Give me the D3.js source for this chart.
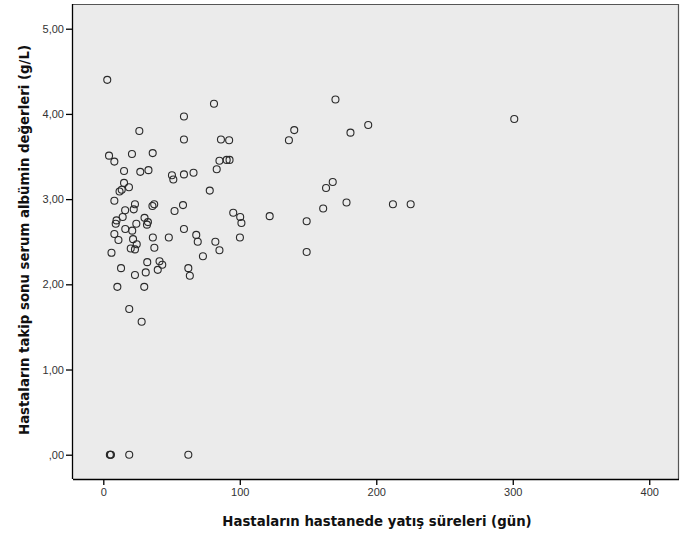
<!DOCTYPE html>
<html>
<head>
<meta charset="utf-8">
<script src="https://cdn.jsdelivr.net/npm/d3@7"></script>
<style>
  html, body { margin: 0; padding: 0; background: #ffffff; }
  svg { display: block; }
</style>
</head>
<body>
<svg id="chart" width="681" height="533"></svg>
<script>
// Hospital stay duration (days)
const stayDays = [
  2.9, 4.2, 8.1, 21.0, 36.2, 26.4, 59.1, 59.1, 81.1, 86.2,
  92.2, 15.2, 27.1, 33.1, 50.3, 51.3, 59.1, 66.1, 85.1, 83.1,
  90.4, 92.5, 78.0, 15.2, 18.8, 13.5, 11.9, 8.1, 23.2, 22.3,
  16.0, 37.3, 36.0, 58.4, 52.2, 95.2, 100.3, 101.2, 14.2, 9.7,
  9.1, 30.2, 32.7, 32.0, 24.2, 16.1, 21.2, 8.1, 11.1, 21.8,
  24.5, 20.1, 23.2, 36.3, 48.0, 37.4, 6.0, 59.1, 68.1, 69.2,
  82.1, 85.1, 100.1, 73.0, 13.0, 23.2, 32.2, 31.1, 41.2, 43.2,
  39.9, 62.3, 63.4, 10.3, 30.0, 19.0, 28.1, 170.1, 139.9, 136.0,
  181.1, 194.1, 301.1, 168.1, 163.2, 161.1, 178.2, 212.2, 225.2, 121.9,
  149.0, 149.0, 4.8, 5.2, 5.6, 19.0, 62.3
];
// Follow-up serum albumin (g/L)
const albumin = [
  4.40, 3.51, 3.44, 3.53, 3.54, 3.80, 3.97, 3.70, 4.12, 3.70,
  3.69, 3.33, 3.32, 3.34, 3.28, 3.23, 3.29, 3.31, 3.45, 3.35,
  3.46, 3.46, 3.10, 3.19, 3.14, 3.11, 3.09, 2.98, 2.94, 2.88,
  2.87, 2.94, 2.92, 2.93, 2.86, 2.84, 2.79, 2.72, 2.79, 2.75,
  2.71, 2.78, 2.73, 2.70, 2.71, 2.65, 2.63, 2.59, 2.52, 2.53,
  2.47, 2.42, 2.41, 2.55, 2.55, 2.43, 2.37, 2.65, 2.58, 2.50,
  2.50, 2.40, 2.55, 2.33, 2.19, 2.11, 2.26, 2.14, 2.27, 2.23,
  2.17, 2.19, 2.10, 1.97, 1.97, 1.71, 1.56, 4.17, 3.81, 3.69,
  3.78, 3.87, 3.94, 3.20, 3.13, 2.89, 2.96, 2.94, 2.94, 2.80,
  2.74, 2.38, 0.00, 0.00, 0.00, 0.00, 0.00
];

const xTickValues = [0, 100, 200, 300, 400];
const xTickLabels = ["0", "100", "200", "300", "400"];
const yTickValues = [0, 1, 2, 3, 4, 5];
const yTickLabels = [",00", "1,00", "2,00", "3,00", "4,00", "5,00"];

const xTitle = "Hastaların hastanede yatış süreleri (gün)";
const yTitle = "Hastaların takip sonu serum albümin değerleri (g/L)";

const svg = d3.select("#chart");
const plot = { left: 73, right: 679, top: 4, bottom: 479 };

const x = d3.scaleLinear().domain([-22.2, 421.8]).range([plot.left, plot.right]);
const y = d3.scaleLinear().domain([-0.285, 5.29]).range([plot.bottom, plot.top]);

// plot background
svg.append("rect")
  .attr("x", plot.left).attr("y", plot.top)
  .attr("width", plot.right - plot.left).attr("height", plot.bottom - plot.top)
  .attr("fill", "#ebebeb");

// top & right frame
svg.append("path")
  .attr("d", `M${plot.left},${plot.top + 0.5}H${plot.right - 0.5}V${plot.bottom}`)
  .attr("fill", "none").attr("stroke", "#555").attr("stroke-width", 1.2);

// points
svg.append("g").selectAll("circle")
  .data(stayDays.map((d, i) => [d, albumin[i]]))
  .join("circle")
  .attr("cx", d => x(d[0]))
  .attr("cy", d => y(d[1]))
  .attr("r", 3.5)
  .attr("fill", "none")
  .attr("stroke", "#2a2a2a")
  .attr("stroke-width", 1.1);

// axes
const xAxis = d3.axisBottom(x).tickValues(xTickValues)
  .tickFormat((d, i) => xTickLabels[i]).tickSize(6).tickSizeOuter(0).tickPadding(3);
const yAxis = d3.axisLeft(y).tickValues(yTickValues)
  .tickFormat((d, i) => yTickLabels[i]).tickSize(7).tickSizeOuter(0).tickPadding(2);

const gx = svg.append("g").attr("transform", `translate(0,${plot.bottom})`).call(xAxis);
const gy = svg.append("g").attr("transform", `translate(${plot.left},0)`).call(yAxis);

[gx, gy].forEach(g => {
  g.attr("font-family", null).attr("font-size", null);
  g.select(".domain").attr("stroke", "#000").attr("stroke-width", 1.3);
  g.selectAll(".tick line").attr("stroke", "#000").attr("stroke-width", 1.3);
  g.selectAll(".tick text").attr("fill", "#333")
    .style("font-size", "11px")
    .style("font-family", "'Liberation Sans', Arial, sans-serif");
});
gx.select(".domain").attr("d", `M${plot.left},0.5H${plot.right}`);
gy.select(".domain").attr("d", `M-0.5,${plot.top}V${plot.bottom}`);

// titles
const titleFont = "'DejaVu Sans', Verdana, sans-serif";
svg.append("text")
  .attr("x", 377)
  .attr("y", 526)
  .attr("text-anchor", "middle")
  .style("font-family", titleFont)
  .style("font-size", "13.3px").style("font-weight", "bold").attr("fill", "#111")
  .text(xTitle);

svg.append("text")
  .attr("transform", `translate(29,240) rotate(-90)`)
  .attr("text-anchor", "middle")
  .style("font-family", titleFont)
  .style("font-size", "13.3px").style("font-weight", "bold").attr("fill", "#111")
  .text(yTitle);
</script>
</body>
</html>
